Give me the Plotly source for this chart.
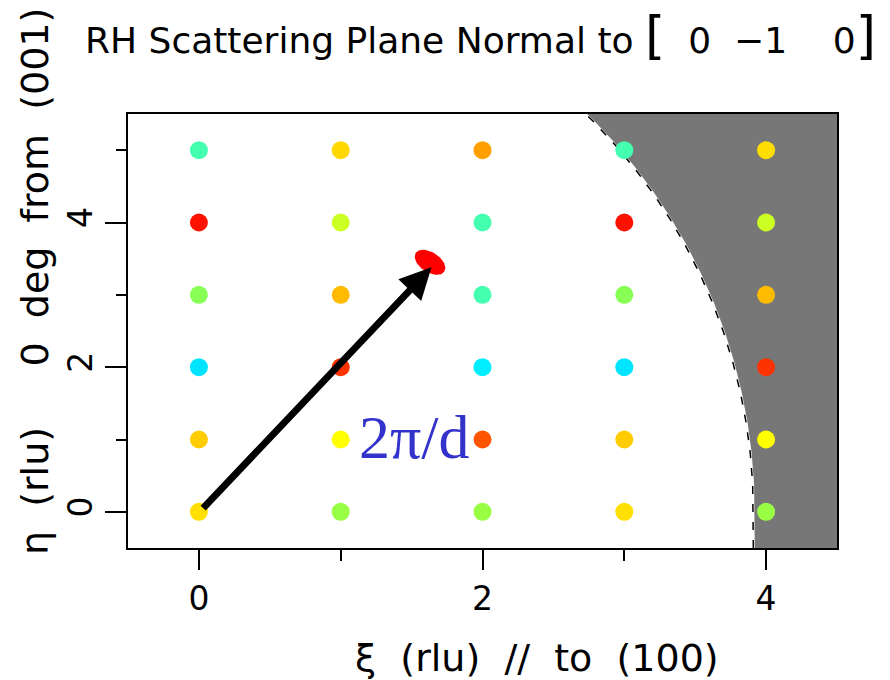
import numpy as np
import plotly.graph_objects as go

# ---- data ----
xi_values = [0, 1, 2, 3, 4]
eta_values = [0, 1, 2, 3, 4, 5]
# colours of lattice points, column per xi, listed from eta=0 upward
col_xi0 = ["#ffe000", "#ffcc00", "#00e5ff", "#88ff55", "#ff1100", "#44ffb0"]
col_xi1 = ["#99ff44", "#ffff00", "#ff3300", "#ffbb00", "#ccff22", "#ffd800"]
col_xi2 = ["#99ff44", "#ff5500", "#00eeff", "#44ffb0", "#44ffb0", "#ffa000"]
col_xi3 = ["#ffe000", "#ffcc00", "#00e5ff", "#88ff55", "#ff1100", "#44ffb0"]
col_xi4 = ["#99ff44", "#ffff00", "#ff3300", "#ffbb00", "#ccff22", "#ffdd00"]
columns = [col_xi0, col_xi1, col_xi2, col_xi3, col_xi4]

# accessible-region limit: xi^2 + (k*eta)^2 = R^2
limit_R = 3.92
limit_k = 0.51

# scattering vector
q_start = [0.02, 0.03]
q_end = [1.64, 3.38]
spot_center = [1.63, 3.45]
label_pos = [1.52, 1.04]

x_range = [-0.5, 4.5]
y_range = [-0.5, 5.5]

NB = "\u00a0"

# ---- figure ----
fig = go.Figure()

# forbidden region (gray)
eta_b = np.linspace(y_range[0], y_range[1], 200)
xi_b = np.sqrt(np.clip(limit_R**2 - (limit_k * np.clip(eta_b, 0, None))**2, 0, None))
gx = list(xi_b) + [x_range[1], x_range[1]]
gy = list(eta_b) + [y_range[1], y_range[0]]
fig.add_trace(go.Scatter(x=gx, y=gy, fill="toself", fillcolor="#777777",
                         line=dict(width=0), mode="lines", hoverinfo="skip",
                         showlegend=False))
fig.add_trace(go.Scatter(x=xi_b - 0.01, y=eta_b, mode="lines",
                         line=dict(color="black", width=1.5, dash="8px,10px"),
                         hoverinfo="skip", showlegend=False))

# lattice points
px, py, pc = [], [], []
for i, xv in enumerate(xi_values):
    for j, yv in enumerate(eta_values):
        px.append(xv)
        py.append(yv)
        pc.append(columns[i][j])
fig.add_trace(go.Scatter(x=px, y=py, mode="markers",
                         marker=dict(size=18, color=pc, line=dict(width=0)),
                         showlegend=False))

# red spot (ellipse) drawn in pixel-consistent units
sx = 141.75  # px per xi unit
sy = 72.2    # px per eta unit
a_px, b_px, ang = 17, 10, np.deg2rad(-33)
t = np.linspace(0, 2 * np.pi, 60)
ex = spot_center[0] + (a_px * np.cos(ang) * np.cos(t) - b_px * np.sin(ang) * np.sin(t)) / sx
ey = spot_center[1] + (a_px * np.sin(ang) * np.cos(t) + b_px * np.cos(ang) * np.sin(t)) / sy
fig.add_trace(go.Scatter(x=ex, y=ey, fill="toself", fillcolor="#ff0000",
                         line=dict(width=0, color="#ff0000"), mode="lines",
                         hoverinfo="skip", showlegend=False))

# arrow
fig.add_annotation(x=q_end[0], y=q_end[1], ax=q_start[0], ay=q_start[1],
                   xref="x", yref="y", axref="x", ayref="y",
                   showarrow=True, arrowhead=2, arrowsize=0.9, arrowwidth=7,
                   arrowcolor="black", text="")

fig.add_annotation(x=label_pos[0], y=label_pos[1], xref="x", yref="y",
                   text="2π/d", showarrow=False,
                   font=dict(family="Liberation Serif", size=62, color="#3333cc"))

# title
fig.add_annotation(
    x=-0.063, y=1.182, xref="paper", yref="paper", xanchor="left", yanchor="middle",
    showarrow=False,
    text=("RH Scattering Plane Normal to <span style='font-size:52px'>[</span>"
          + NB * 2 + "0" + NB * 2 + "−1" + NB * 4 + "0<span style='font-size:52px'>]</span>"),
    font=dict(family="DejaVu Sans", size=36, color="black"))

# x title
fig.add_annotation(x=0.577, y=-0.253, xref="paper", yref="paper",
                   xanchor="center", yanchor="middle",
                   text="ξ" + NB * 2 + "(rlu)" + NB * 2 + "//" + NB * 2 + "to" + NB * 2 + "(100)",
                   showarrow=False,
                   font=dict(family="DejaVu Sans", size=38, color="black"))

# y title
fig.add_annotation(x=-0.131, y=0.613, xref="paper", yref="paper",
                   xanchor="center", yanchor="middle", textangle=-90,
                   text=("η" + NB * 2 + "(rlu)" + NB * 5 + "0" + NB * 2 + "deg"
                         + NB * 2 + "from" + NB * 2 + "(001)"),
                   showarrow=False,
                   font=dict(family="DejaVu Sans", size=38, color="black"))

fig.update_layout(
    width=890, height=680,
    margin=dict(l=128, r=53, t=114, b=132),
    paper_bgcolor="white", plot_bgcolor="white",
    font=dict(family="DejaVu Sans", size=33, color="black"),
    xaxis=dict(range=x_range, tickvals=[0, 2, 4], ticks="outside", ticklen=20,
               tickwidth=2, tickcolor="black", showgrid=False, zeroline=False,
               showline=True, linecolor="black", linewidth=2, mirror=True,
               minor=dict(tickvals=[1, 3], ticks="outside", ticklen=11,
                          tickwidth=2, tickcolor="black", showgrid=False),
               tickfont=dict(size=33)),
    yaxis=dict(range=y_range, tickvals=[0, 2, 4], ticks="outside", ticklen=21,
               tickwidth=2, tickcolor="black", showgrid=False, zeroline=False,
               showline=True, linecolor="black", linewidth=2, mirror=True,
               tickangle=-90,
               minor=dict(tickvals=[1, 3, 5], ticks="outside", ticklen=10,
                          tickwidth=2, tickcolor="black", showgrid=False),
               tickfont=dict(size=33)),
)

fig.write_html("out.html")
